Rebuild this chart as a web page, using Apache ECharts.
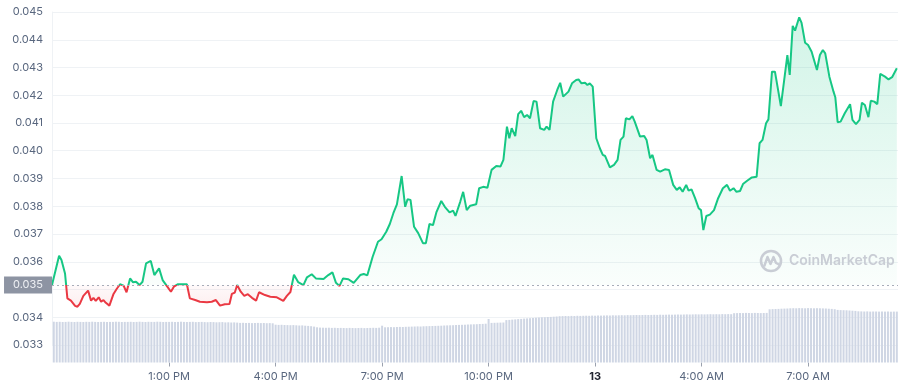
<!DOCTYPE html>
<html>
<head>
<meta charset="utf-8">
<script src="https://cdn.jsdelivr.net/npm/echarts@6/dist/echarts.min.js"></script>
<style>
html,body{margin:0;padding:0;background:#fff;}
#chart{width:900px;height:388px;}
</style>
</head>
<body>
<div id="chart"></div>
<script>
// ---- data (time = minutes since midnight of day 12) ----
const priceTimes = [582,594,598,604,608,614,621,625,629,635,643,648,652,656,661,665,669,673,679,686,691,697,703,708,714,719,724,730,735,741,749,755,763,769,776,783,788,795,810,815,824,832,844,852,859,866,874,882,886,891,895,901,907,913,920,927,932,942,951,962,973,979,985,991,998,1007,1013,1021,1028,1041,1049,1056,1062,1068,1074,1083,1092,1103,1109,1115,1124,1133,1139,1147,1153,1159,1165,1173,1179,1183,1188,1194,1201,1209,1214,1220,1226,1232,1240,1246,1254,1260,1264,1272,1277,1283,1289,1299,1304,1311,1318,1325,1333,1340,1345,1351,1355,1359,1365,1370,1375,1380,1385,1390,1396,1401,1407,1414,1418,1423,1429,1436,1441,1446,1455,1461,1468,1472,1477,1483,1487,1491,1496,1502,1508,1513,1517,1525,1532,1538,1543,1548,1552,1558,1563,1567,1576,1583,1587,1593,1597,1604,1610,1618,1625,1632,1638,1643,1648,1654,1658,1663,1669,1675,1679,1683,1688,1694,1701,1708,1716,1723,1728,1734,1739,1745,1750,1757,1765,1773,1778,1783,1789,1793,1799,1804,1814,1825,1829,1834,1838,1845,1849,1855,1860,1866,1875,1880,1885,1889,1896,1903,1906,1910,1915,1922,1931,1935,1941,1947,1951,1956,1962,1966,1972,1977,1982,1990,1996,2002,2010];

const prices = [
0.03516,0.03622,0.03606,0.03558,0.03468,0.03460,0.03441,0.03438,0.03448,0.03477,
0.03496,0.03460,0.03470,0.03459,0.03472,0.03456,0.03462,0.03452,0.03442,0.03484,
0.03501,0.03519,0.03514,0.03490,0.03540,0.03526,0.03528,0.03516,0.03528,0.03594,
0.03603,0.03552,0.03576,0.03534,0.03513,0.03492,0.03510,0.03519,0.03519,0.03468,
0.03462,0.03456,0.03454,0.03456,0.03462,0.03442,0.03447,0.03448,0.03484,0.03489,
0.03516,0.03492,0.03477,0.03483,0.03470,0.03460,0.03490,0.03480,0.03474,0.03472,
0.03459,0.03477,0.03491,0.03553,0.03527,0.03516,0.03544,0.03555,0.03540,0.03538,
0.03552,0.03562,0.03524,0.03513,0.03540,0.03537,0.03524,0.03552,0.03556,0.03551,
0.03618,0.03672,0.03681,0.03708,0.03736,0.03775,0.03807,0.03909,0.03798,0.03825,
0.03823,0.03726,0.03703,0.03667,0.03667,0.03736,0.03732,0.03780,0.03819,0.03798,
0.03778,0.03784,0.03765,0.03816,0.03852,0.03786,0.03802,0.03807,0.03865,0.03870,
0.03867,0.03931,0.03945,0.03943,0.03967,0.04087,0.04045,0.04081,0.04053,0.04132,
0.04144,0.04121,0.04129,0.04117,0.04179,0.04177,0.04081,0.04075,0.04087,0.04075,
0.04177,0.04219,0.04245,0.04195,0.04213,0.04243,0.04255,0.04257,0.04243,0.04245,
0.04237,0.04243,0.04231,0.04045,0.04009,0.03985,0.03981,0.03940,0.03949,0.03967,
0.04039,0.04051,0.04117,0.04113,0.04125,0.04105,0.04051,0.04053,0.04039,0.03973,
0.03985,0.03931,0.03925,0.03933,0.03931,0.03877,0.03859,0.03868,0.03852,0.03877,
0.03856,0.03861,0.03829,0.03793,0.03786,0.03714,0.03765,0.03770,0.03786,0.03829,
0.03865,0.03877,0.03856,0.03865,0.03852,0.03855,0.03880,0.03892,0.03904,0.03906,
0.04027,0.04039,0.04099,0.04113,0.04285,0.04285,0.04161,0.04345,0.04273,0.04450,
0.04433,0.04481,0.04461,0.04389,0.04381,0.04357,0.04291,0.04345,0.04363,0.04351,
0.04267,0.04213,0.04193,0.04103,0.04105,0.04135,0.04168,0.04111,0.04096,0.04111,
0.04173,0.04165,0.04121,0.04180,0.04177,0.04168,0.04277,0.04267,0.04257,0.04265,
0.04297];

const openPrice = 0.03516;

// volume bars: one every 5 minutes starting 9:45 AM
const volStart = 585;
const volStep = 5;
const volumes = [
40.8,40.6,40.7,40.5,40.6,40.8,40.6,40.5,40.7,40.6,
40.5,40.7,40.6,40.8,40.6,40.5,40.6,40.7,40.5,40.6,
40.6,40.8,40.7,40.5,40.6,40.6,40.7,40.5,40.6,40.8,
40.6,40.5,40.7,40.6,40.6,40.8,40.7,40.5,40.6,40.6,
40.7,40.5,40.6,40.8,40.6,40.5,40.6,40.7,40.4,40.5,
40.6,40.4,40.3,40.5,40.4,40.2,40.3,40.4,40.1,40.2,
40.0,40.1,39.9,39.6,39.7,39.5,39.6,39.4,39.5,39.6,
39.4,39.5,39.3,39.4,39.2,37.8,37.6,37.7,37.5,37.4,
37.3,37.4,37.2,37.0,37.1,36.8,36.6,36.3,35.9,35.2,
34.9,34.8,34.7,34.8,34.6,34.7,34.5,34.6,34.5,34.4,
34.6,34.5,34.4,34.5,34.6,34.4,34.5,34.6,34.7,34.6,
34.8,36.8,35.2,35.3,35.4,35.3,35.5,35.6,35.5,35.7,
35.8,35.9,36.0,36.1,36.0,36.2,36.3,36.4,36.5,36.6,
36.7,36.8,37.0,37.1,37.2,37.3,37.5,37.6,37.7,37.8,
38.0,38.1,38.2,38.3,38.5,38.6,38.8,43.5,39.6,39.7,
39.8,39.9,40.0,42.4,42.6,42.9,43.1,43.4,43.6,43.9,
44.1,44.3,44.5,44.8,45.0,45.2,45.3,45.5,45.6,45.8,
46.0,46.3,46.4,46.5,46.4,46.6,46.5,46.7,46.6,46.7,
46.8,46.7,46.9,46.8,47.0,46.9,47.0,47.1,47.0,47.2,
47.1,47.2,47.3,47.2,47.4,47.3,47.4,47.5,47.4,47.5,
47.6,47.5,47.6,47.7,47.6,47.8,47.7,47.8,47.9,47.8,
47.9,48.0,47.9,48.0,48.1,48.0,48.1,48.2,48.1,48.2,
48.1,48.2,48.3,48.2,48.3,48.2,48.4,48.3,48.4,48.3,
49.3,49.4,49.5,49.4,49.6,49.5,49.4,49.6,49.5,49.4,
49.5,49.6,53.2,53.4,53.5,53.6,53.8,53.9,54.0,54.2,
54.3,54.2,54.4,54.3,54.2,54.4,54.3,54.2,54.3,54.2,
54.1,54.0,53.8,53.6,53.3,52.6,52.4,52.3,52.2,52.0,
51.8,51.6,51.2,51.1,51.0,51.1,50.9,51.0,51.0,50.9,
51.0,50.9,51.0,50.8,50.9,50.9];

const tickValues = [780, 960, 1140, 1320, 1500, 1680, 1860];
const tickLabels = ['1:00 PM', '4:00 PM', '7:00 PM', '10:00 PM', '13', '4:00 AM', '7:00 AM'];
const yTicks = ['0.033','0.034','0.035','0.036','0.037','0.038','0.039','0.040','0.041','0.042','0.043','0.044','0.045'];

if (priceTimes.length !== prices.length) throw new Error('length mismatch ' + priceTimes.length + ' ' + prices.length);

// ---- layout / style ----
const X_MIN = 582, X_MAX = 2012;
const Y_MIN = 0.033, Y_MAX = 0.045;
const GRID_LEFT = 52, GRID_RIGHT = 2, PRICE_TOP = 12, PRICE_H = 333;
const GREEN = '#16c784', RED = '#ea3943';
const FONT = 'Inter, "Noto Sans", sans-serif';

const priceData = priceTimes.map((t, i) => [t, prices[i]]);
const volData = volumes.map((v, i) => [volStart + i * volStep, v]);

const yPix = v => PRICE_TOP + (Y_MAX - v) / (Y_MAX - Y_MIN) * PRICE_H;
const pMax = Math.max(...prices), pMin = Math.min(...prices);
const gTop = yPix(pMax), gBot = yPix(pMin), gBase = yPix(openPrice);
const sBase = (gBase - gTop) / (gBot - gTop);

const chart = echarts.init(document.getElementById('chart'), null, {renderer: 'canvas'});
chart.setOption({
  animation: false,
  backgroundColor: '#ffffff',
  textStyle: {fontFamily: FONT},
  grid: [
    {left: GRID_LEFT, right: GRID_RIGHT, top: PRICE_TOP, height: PRICE_H},
    {left: GRID_LEFT, right: GRID_RIGHT, top: 262.5, height: 100}
  ],
  xAxis: [
    {type: 'value', gridIndex: 0, min: X_MIN, max: X_MAX, show: false},
    {type: 'value', gridIndex: 1, min: X_MIN, max: X_MAX,
      axisLine: {show: false},
      splitLine: {show: false},
      axisTick: {show: true, customValues: tickValues, length: 4, lineStyle: {color: '#9aa1ae'}},
      axisLabel: {
        customValues: tickValues, margin: 9, fontSize: 11, color: '#58667e', fontFamily: FONT,
        formatter: v => {
          const i = tickValues.indexOf(v);
          const s = i >= 0 ? tickLabels[i] : '';
          return /^\d+$/.test(s) ? '{b|' + s + '}' : s;
        },
        rich: {b: {fontWeight: 'bold', color: '#222531', fontSize: 11, fontFamily: FONT}}
      }
    }
  ],
  yAxis: [
    {type: 'value', gridIndex: 0, min: Y_MIN, max: Y_MAX, interval: 0.001,
      axisLine: {show: true, lineStyle: {color: '#eff2f5'}},
      axisTick: {show: false},
      splitLine: {lineStyle: {color: '#eff2f5', width: 1}},
      axisLabel: {color: '#58667e', fontSize: 11, margin: 9, fontFamily: FONT,
        formatter: v => yTicks[Math.round((v - Y_MIN) * 1000)] || ''}
    },
    {type: 'value', gridIndex: 1, min: 0, max: 100, show: false}
  ],
  visualMap: {
    show: false, type: 'piecewise', seriesIndex: 0, dimension: 1,
    pieces: [
      {gt: openPrice, lte: 1, color: GREEN},
      {gte: 0, lte: openPrice, color: RED}
    ]
  },
  graphic: [
    {type: 'circle', shape: {cx: 771, cy: 261, r: 10}, style: {fill: 'none', stroke: '#c9cdd5', lineWidth: 2.6}, z: 10},
    {type: 'polyline', shape: {points: [[764.5, 265.5], [767.5, 257], [770.5, 264], [773.5, 257], [776, 263], [779, 264.5]]},
      style: {fill: 'none', stroke: '#c9cdd5', lineWidth: 2.4, lineJoin: 'round', lineCap: 'round'}, z: 10},
    {type: 'text', x: 789, y: 261, style: {text: 'CoinMarketCap', fill: '#c9cdd5', font: '600 14px ' + FONT, textVerticalAlign: 'middle'}, z: 10}
  ],
  series: [
    {
      type: 'line', xAxisIndex: 0, yAxisIndex: 0, data: priceData,
      showSymbol: false, symbol: 'none', smooth: false,
      lineStyle: {width: 2},
      areaStyle: {
        origin: openPrice,
        color: {
          type: 'linear', global: true, x: 0, y: gTop, x2: 0, y2: gBot,
          colorStops: [
            {offset: 0, color: 'rgba(22,199,132,0.28)'},
            {offset: sBase - 0.001, color: 'rgba(22,199,132,0.03)'},
            {offset: sBase, color: 'rgba(234,57,67,0.04)'},
            {offset: 1, color: 'rgba(234,57,67,0.12)'}
          ]
        }
      },
      markLine: {
        silent: true, symbol: ['none', 'none'], precision: 6,
        lineStyle: {type: [2, 3], color: '#a7adb9', width: 1},
        label: {
          show: true, position: 'start', distance: 0,
          formatter: () => openPrice.toFixed(3),
          backgroundColor: '#8d94a3', color: '#eef0f4', fontSize: 11, fontFamily: FONT,
          padding: [2, 9, 2, 9], lineHeight: 13
        },
        data: [{yAxis: openPrice}]
      },
      z: 3
    },
    {
      type: 'bar', xAxisIndex: 1, yAxisIndex: 1, data: volData,
      barWidth: 2, itemStyle: {color: '#cfd6e4'}, z: 1
    }
  ]
});
</script>
</body>
</html>
